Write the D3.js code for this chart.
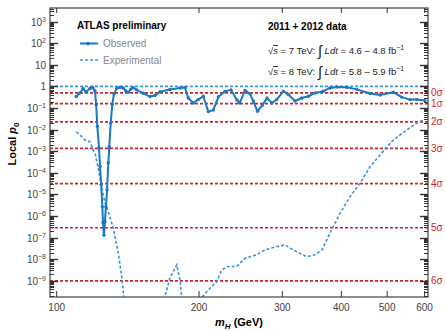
<html>
<head>
  <script src="https://d3js.org/d3.v7.min.js"></script>
  <style>
    body { margin: 0; background: #fff; }
    text { font-family: 'Liberation Sans', Arial, sans-serif; }
  </style>
</head>
<body>
<svg id="chart" width="446" height="331"></svg>
<script>
// observed local p0 (mass in GeV)
var obsMass = [110.0, 112.0, 113.7, 115.3, 117.6, 119.2, 120.5, 121.2, 121.9, 122.9, 123.5, 124.2, 124.9, 125.3, 125.9,
  126.5, 127.1, 127.8, 128.6, 129.2, 130.1, 131.1, 132.2, 134.0, 136.1, 138.3, 140.0, 141.7, 143.5, 145.2, 147.6,
  152.5, 157.5, 161.4, 165.4, 173.6, 182.3, 186.8, 189.8, 194.5, 199.3, 204.2, 209.3, 214.4, 219.8, 227.0, 233.8,
  240.6, 243.8, 250.2, 256.4, 260.5, 265.9, 272.5, 278.5, 285.0, 292.0, 301.6, 309.0, 319.2, 329.8, 340.7, 351.9,
  366.4, 378.4, 391.1, 410.6, 431.1, 459.9, 482.8, 515.1, 536.7, 558.8, 577.4, 601.2]
var obsP = [0.34, 0.50, 0.80, 0.55, 0.80, 0.90, 0.62, 0.14, 0.014, 1.4e-3, 2.0e-4, 2.8e-5, 2.7e-6, 5e-7, 1.3e-7,
  5.4e-7, 2.7e-6, 1.6e-5, 2.9e-4, 1.6e-3, 0.020, 0.15, 0.45, 0.81, 0.92, 0.85, 0.62, 0.53, 0.75, 0.88, 0.69,
  0.48, 0.34, 0.38, 0.57, 0.72, 0.85, 0.90, 0.29, 0.17, 0.245, 0.35, 0.068, 0.08, 0.33, 0.59, 0.69,
  0.237, 0.17, 0.65, 0.45, 0.21, 0.07, 0.139, 0.29, 0.17, 0.245, 0.60, 0.42, 0.21, 0.29, 0.35, 0.50,
  0.60, 0.85, 0.95, 0.92, 0.73, 0.47, 0.40, 0.54, 0.32, 0.245, 0.245, 0.22]

// expected ("Experimental") local p0
var expMass = [110.0, 112.0, 114.8, 117.6, 119.4, 120.5, 122.5, 124.5, 126.5, 128.6, 131.7, 135.0, 137.2, 139.5,
  150.0, 167.0, 173.6, 179.4, 182.3, 184.8, 192.0, 200.0, 209.3, 218.0, 223.3, 230.6, 240.3, 250.2, 264.8, 275.8,
  289.6, 304.1, 316.2, 338.0, 351.9, 364.0, 372.5, 384.6, 397.4, 417.4, 438.1, 459.9, 482.8, 515.1, 550.0,
  577.4, 596.3]
var expP = [7.8e-3, 5.7e-3, 3.3e-3, 2.7e-3, 1.15e-3, 8.3e-4, 1.5e-4, 2e-5, 4.1e-6, 1.55e-6, 2.8e-7, 1.96e-8, 1.7e-9, 6e-11,
  1e-12, 6e-11, 1.36e-9, 5.5e-9, 1.1e-9, 6e-11, 1e-12, 1.2e-10, 3.8e-10, 9.1e-10, 3.2e-9, 4.6e-9, 4.6e-9, 1.1e-8, 1.6e-8, 2.7e-8,
  3.7e-8, 4.6e-8, 2.7e-8, 1.3e-8, 1.6e-8, 2.7e-8, 7.9e-8, 3.2e-7, 1.35e-6, 7.9e-6, 3.3e-5, 1.9e-4, 6.7e-4, 3.3e-3, 9.7e-3,
  0.020, 0.028]

var sigmaNames = ['0σ', '1σ', '2σ', '3σ', '4σ', '5σ', '6σ']
var sigmaP = [0.5, 0.1587, 0.02275, 1.35e-3, 3.17e-5, 2.87e-7, 9.87e-10]
var xTicks = [100, 200, 300, 400, 500, 600]
var yDecades = [3, 2, 1, 0, -1, -2, -3, -4, -5, -6, -7, -8, -9]

var red = '#c9262b'
var blue = '#1b78c2'
var lightBlue = '#3a93d6'

var svg = d3.select('#chart')
var x = d3.scaleLog().domain([96.8, 610]).range([50, 428])
var y = d3.scaleLog().domain([Math.pow(10, -9.75), Math.pow(10, 3.63)]).range([297, 8])

svg.append('clipPath').attr('id', 'plotclip')
  .append('rect').attr('x', 50).attr('y', 8).attr('width', 378).attr('height', 289)

var plot = svg.append('g').attr('clip-path', 'url(#plotclip)')

// blue dotted reference at p0 = 1
plot.append('line')
  .attr('x1', 50).attr('x2', 428)
  .attr('y1', y(1)).attr('y2', y(1))
  .attr('stroke', lightBlue).attr('stroke-width', 1.6)
  .attr('stroke-dasharray', '3,2')

// sigma lines
plot.selectAll('.sig')
  .data(sigmaP)
  .enter().append('line')
  .attr('class', 'sig')
  .attr('x1', 50).attr('x2', 428)
  .attr('y1', function (d) { return y(d) })
  .attr('y2', function (d) { return y(d) })
  .attr('stroke', red).attr('stroke-width', 1.6)
  .attr('stroke-dasharray', '3,2')

svg.selectAll('.siglab')
  .data(sigmaP)
  .enter().append('text')
  .attr('class', 'siglab')
  .attr('x', 431)
  .attr('y', function (d) { return y(d) + 3.5 })
  .attr('font-size', 10)
  .attr('fill', red)
  .text(function (d, i) { return sigmaNames[i] })

// expected curve
var expData = expMass.map(function (m, i) { return [m, expP[i]] })
var obsData = obsMass.map(function (m, i) { return [m, obsP[i]] })
var line = d3.line()
  .x(function (d) { return x(d[0]) })
  .y(function (d) { return y(Math.max(d[1], 1e-13)) })

plot.append('path')
  .datum(expData)
  .attr('d', line)
  .attr('fill', 'none')
  .attr('stroke', lightBlue).attr('stroke-width', 1.6)
  .attr('stroke-dasharray', '3,2')

plot.append('path')
  .datum(obsData)
  .attr('d', line.curve(d3.curveLinear))
  .attr('fill', 'none')
  .attr('stroke', blue).attr('stroke-width', 2)
  .attr('stroke-linejoin', 'round')

plot.selectAll('.mk')
  .data(obsData)
  .enter().append('circle')
  .attr('class', 'mk')
  .attr('cx', function (d) { return x(d[0]) })
  .attr('cy', function (d) { return y(d[1]) })
  .attr('r', 1.7)
  .attr('fill', blue)

// frame
svg.append('rect')
  .attr('x', 50).attr('y', 8).attr('width', 378).attr('height', 289)
  .attr('fill', 'none').attr('stroke', '#444').attr('stroke-width', 1.2)

// y ticks (major + minor) on both sides
var minor = []
yDecades.forEach(function (e) {
  for (var k = 2; k <= 9; k++) {
    var v = k * Math.pow(10, e - 1)
    if (y(v) <= 297 && y(v) >= 8) minor.push(v)
  }
})
for (k = 2; k <= 4; k++) minor.push(k * 1000)

var ticks = svg.append('g').attr('stroke', '#333').attr('stroke-width', 1)
;[50, 428].forEach(function (x0) {
  var dir = x0 === 50 ? 1 : -1
  ticks.selectAll(null)
    .data(minor).enter().append('line')
    .attr('x1', x0).attr('x2', x0 + dir * 4)
    .attr('y1', function (d) { return Math.round(y(d)) + 0.5 })
    .attr('y2', function (d) { return Math.round(y(d)) + 0.5 })
  ticks.selectAll(null)
    .data(yDecades).enter().append('line')
    .attr('x1', x0).attr('x2', x0 + dir * 8)
    .attr('y1', function (d) { return Math.round(y(Math.pow(10, d))) + 0.5 })
    .attr('y2', function (d) { return Math.round(y(Math.pow(10, d))) + 0.5 })
    .attr('stroke-width', 1.4)
})

// x ticks top and bottom
ticks.selectAll(null)
  .data(xTicks).enter().append('line')
  .attr('x1', function (d) { return x(d) }).attr('x2', function (d) { return x(d) })
  .attr('y1', 297).attr('y2', 291)
ticks.selectAll(null)
  .data(xTicks).enter().append('line')
  .attr('x1', function (d) { return x(d) }).attr('x2', function (d) { return x(d) })
  .attr('y1', 8).attr('y2', 13)

// tick labels
svg.selectAll('.xl')
  .data(xTicks).enter().append('text')
  .attr('x', function (d) { return x(d) })
  .attr('y', 311)
  .attr('text-anchor', 'middle')
  .attr('font-size', 10)
  .attr('fill', '#444')
  .text(function (d) { return d })

var yl = svg.selectAll('.yl')
  .data(yDecades).enter().append('text')
  .attr('x', 46)
  .attr('y', function (d) { return y(Math.pow(10, d)) + 4 })
  .attr('text-anchor', 'end')
  .attr('font-size', 10)
  .attr('fill', '#444')
yl.each(function (d) {
  var t = d3.select(this)
  if (d === 0) { t.text('1'); return }
  if (d === 1) { t.text('10'); return }
  t.append('tspan').text('10')
  t.append('tspan').attr('dy', -4).attr('font-size', 7)
    .text(d < 0 ? '\u2212' + (-d) : d)
})

// axis titles
var ylab = svg.append('text')
  .attr('transform', 'translate(16,144) rotate(-90)')
  .attr('text-anchor', 'middle')
  .attr('font-size', 11)
  .attr('font-weight', 'bold')
ylab.append('tspan').text('Local ')
ylab.append('tspan').attr('font-style', 'italic').text('p')
ylab.append('tspan').attr('dy', 3).attr('font-size', 8).text('0')

var xlab = svg.append('text')
  .attr('x', 239).attr('y', 326)
  .attr('text-anchor', 'middle')
  .attr('font-size', 11)
  .attr('font-weight', 'bold')
xlab.append('tspan').attr('font-style', 'italic').text('m')
xlab.append('tspan').attr('font-style', 'italic').attr('dy', 3).attr('font-size', 8).text('H')
xlab.append('tspan').attr('dy', -3).text(' (GeV)')

// legend
svg.append('text').attr('x', 77).attr('y', 29)
  .attr('font-size', 10).attr('font-weight', 'bold').text('ATLAS preliminary')
svg.append('line').attr('x1', 80).attr('x2', 98).attr('y1', 43.5).attr('y2', 43.5)
  .attr('stroke', blue).attr('stroke-width', 2)
svg.append('circle').attr('cx', 88).attr('cy', 43.5).attr('r', 1.8).attr('fill', blue)
svg.append('text').attr('x', 103).attr('y', 47)
  .attr('font-size', 10).attr('fill', '#888').text('Observed')
svg.append('line').attr('x1', 80).attr('x2', 98).attr('y1', 60).attr('y2', 60)
  .attr('stroke', lightBlue).attr('stroke-width', 1.6).attr('stroke-dasharray', '3,2')
svg.append('text').attr('x', 103).attr('y', 64)
  .attr('font-size', 10).attr('fill', '#888').text('Experimental')

// data / luminosity text
svg.append('text').attr('x', 268).attr('y', 30)
  .attr('font-size', 10).attr('font-weight', 'bold').text('2011 + 2012 data')

function lumiLine (yy, energy, lumi) {
  var t = svg.append('text').attr('x', 268).attr('y', yy).attr('font-size', 9.5).attr('fill', '#222')
  t.append('tspan').text('\u221A')
  t.append('tspan').attr('font-style', 'italic').attr('text-decoration', 'overline').text('s')
  t.append('tspan').text(' = ' + energy + ' TeV: ')
  t.append('tspan').attr('font-size', 15).attr('dy', 2).text('\u222B')
  t.append('tspan').attr('dy', -2).attr('font-style', 'italic').text(' Ldt')
  t.append('tspan').text(' = ' + lumi + ' fb')
  t.append('tspan').attr('dy', -4).attr('font-size', 7).text('\u22121')
}
lumiLine(54, 7, '4.6 \u2013 4.8')
lumiLine(75, 8, '5.8 \u2013 5.9')
</script>
</body>
</html>
